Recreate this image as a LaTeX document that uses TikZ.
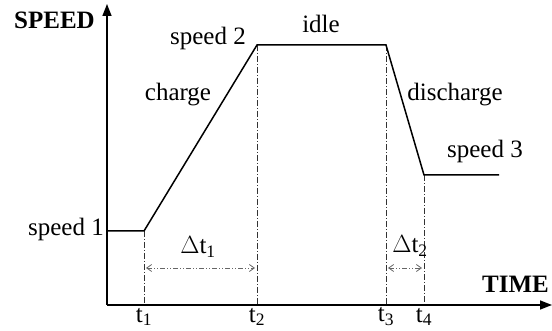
\documentclass[tikz,border=0pt]{standalone}
\usepackage{fontspec}
\setmainfont{Liberation Serif}
\usetikzlibrary{arrows.meta}
\begin{document}
\begin{tikzpicture}[x=1pt,y=-1pt,
  lbl/.style={font=\fontsize{25}{28}\selectfont, inner sep=0pt},
  axlbl/.style={font=\fontsize{25}{28}\selectfont\bfseries, inner sep=0pt},
  axis/.style={line width=1.6pt, -{Triangle[length=12pt,width=9pt]}},
  curve/.style={line width=1.5pt},
  guide/.style={line width=0.7pt, dash pattern=on 6pt off 2pt on 1pt off 2pt, black!80},
  span/.style={line width=0.8pt, gray!80!black, dash pattern=on 5pt off 2pt on 1pt off 2pt on 1pt off 2pt, {Straight Barb[length=5pt,width=7pt]}-{Straight Barb[length=5pt,width=7pt]}}]
\useasboundingbox (0,0) rectangle (552,331);
% key points
\coordinate (O) at (107,305);
\coordinate (ytop) at (107,4);
\coordinate (xend) at (552,305);
\coordinate (p0) at (107,231);
\coordinate (p1) at (144,231);
\coordinate (p2) at (257,45);
\coordinate (p3) at (386,45);
\coordinate (p4) at (424,175);
\coordinate (p5) at (499,175);
\coordinate (b1) at (144,305);
\coordinate (b2) at (257,305);
\coordinate (b3) at (386,305);
\coordinate (b4) at (424,305);
\coordinate (a1) at (146,268);
\coordinate (a2) at (255,268);
\coordinate (a3) at (388,268);
\coordinate (a4) at (422,268);
% guides
\draw[guide] (p1) -- (b1);
\draw[guide] (p2) -- (b2);
\draw[guide] (p3) -- (b3);
\draw[guide] (p4) -- (b4);
% axes
\draw[axis] (O) -- (ytop);
\draw[axis] (O) -- (xend);
% speed profile
\draw[curve] (p0) -- (p1) -- (p2) -- (p3) -- (p4) -- (p5);
% spans
\draw[span] (a1) -- (a2);
\draw[span] (a3) -- (a4);
% labels
\node[axlbl, anchor=east] (lspeed) at (95,20) {SPEED};
\node[axlbl, anchor=east] (ltime) at (549,284) {TIME};
\node[lbl, anchor=east] (ls1) at (104,229) {speed 1};
\node[lbl, anchor=east] (ls2) at (246,38) {speed 2};
\node[lbl] (lidle) at (321,24) {idle};
\node[lbl] (lcharge) at (178,95) {charge};
\node[lbl] (ldis) at (455,95) {discharge};
\node[lbl] (ls3) at (485,151) {speed 3};
\node[lbl] (ldt1) at (198,247) {$\Delta$t\textsubscript{1}};
\node[lbl] (ldt2) at (410,246) {$\Delta$t\textsubscript{2}};
\node[lbl, anchor=south] (lt1) at (144,326) {t\textsubscript{1}};
\node[lbl, anchor=south] (lt2) at (257,326) {t\textsubscript{2}};
\node[lbl, anchor=south] (lt3) at (386,326) {t\textsubscript{3}};
\node[lbl, anchor=south] (lt4) at (424,326) {t\textsubscript{4}};
\end{tikzpicture}
\end{document}
